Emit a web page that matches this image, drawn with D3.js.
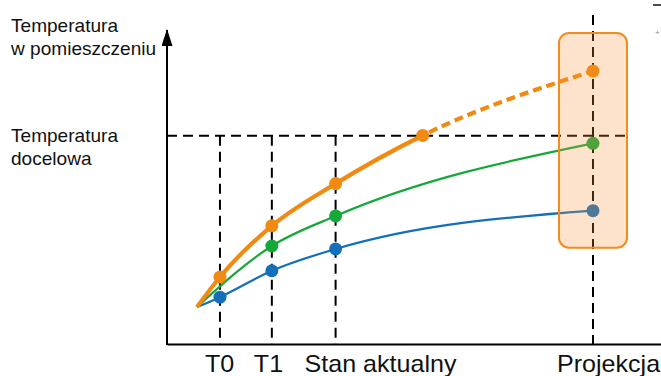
<!DOCTYPE html>
<html>
<head>
<meta charset="utf-8">
<script src="https://cdn.jsdelivr.net/npm/d3@7"></script>
<style>
  html, body { margin: 0; padding: 0; background: #fff; }
  svg { display: block; font-family: "Liberation Sans", Arial, Helvetica, sans-serif; }
</style>
</head>
<body>
<svg id="chart" width="661" height="376"></svg>
<script>
// ---- data ----
const xLabels = ["T0", "T1", "Stan aktualny", "Projekcja"];
const xLabelTimes = [0.58, 1.89, 3.50, 10];
const targetTemp = 63.1;
const yLabelTop = ["Temperatura", "w pomieszczeniu"];
const yLabelTarget = ["Temperatura", "docelowa"];

const orangeTimes = [0, 0.58, 1.89, 3.50, 5.70, 10];
const orangeValues = [11.2, 20.3, 35.8, 48.6, 63.2, 82.7];
const orangeSolidUntil = 5.70;

const greenTimes = [0, 0.58, 1.89, 3.50, 10];
const greenValues = [11.2, null, 29.7, 38.8, 60.8];

const blueTimes = [0, 0.58, 1.89, 3.50, 10];
const blueValues = [11.2, 14.2, 22.2, 28.8, 40.4];

// ---- layout ----
const W = 661, H = 376;
const axisX = 167, axisY = 344;
const svg = d3.select("#chart");
const x = d3.scaleLinear().domain([0, 10]).range([197, 593]);
const y = d3.scaleLinear().domain([0, 100]).range([344, 14]);

const ORANGE = "#f18a10", GREEN = "#17a83c", BLUE = "#136fba";

const defs = svg.append("defs");
defs.append("marker").attr("id", "arrow").attr("viewBox", "0 0 11 17")
  .attr("refX", 5.5).attr("refY", 1).attr("markerWidth", 11).attr("markerHeight", 17)
  .attr("markerUnits", "userSpaceOnUse").attr("orient", "0")
  .append("path").attr("d", "M0,17 L5.5,0 L11,17 Z").attr("fill", "#000");

const xCross = x(orangeSolidUntil);
defs.append("clipPath").attr("id", "solidClip").append("rect")
  .attr("x", 0).attr("y", 0).attr("width", xCross).attr("height", H);
defs.append("clipPath").attr("id", "dashClip").append("rect")
  .attr("x", xCross).attr("y", 0).attr("width", W - xCross).attr("height", H);

// ---- dashed guide lines ----
const dash = "10,6";
const gTarget = y(targetTemp);
svg.append("line").attr("x1", axisX).attr("x2", x(10) + 33).attr("y1", gTarget).attr("y2", gTarget)
  .attr("stroke", "#000").attr("stroke-width", 2).attr("stroke-dasharray", dash);
xLabelTimes.forEach((t, i) => {
  const top = i === xLabelTimes.length - 1 ? 15 : gTarget;
  svg.append("line").attr("x1", x(t)).attr("x2", x(t)).attr("y1", top).attr("y2", axisY)
    .attr("stroke", "#000").attr("stroke-width", 2).attr("stroke-dasharray", dash);
});

// ---- curves ----
function pts(times, vals) {
  return times.map((t, i) => ({ t, v: vals[i] })).filter(d => d.v !== null);
}
const line = d3.line().x(d => x(d.t)).y(d => y(d.v)).curve(d3.curveMonotoneX);

const blue = pts(blueTimes, blueValues);
const green = pts(greenTimes, greenValues);
const orange = pts(orangeTimes, orangeValues);

svg.append("path").attr("d", line(blue)).attr("fill", "none").attr("stroke", BLUE).attr("stroke-width", 2.2);
svg.append("path").attr("d", line(green)).attr("fill", "none").attr("stroke", GREEN).attr("stroke-width", 2.2);
svg.append("path").attr("d", line(orange)).attr("fill", "none").attr("stroke", ORANGE)
  .attr("stroke-width", 4.2).attr("clip-path", "url(#solidClip)");
svg.append("path").attr("d", line(orange)).attr("fill", "none").attr("stroke", ORANGE)
  .attr("stroke-width", 4.2).attr("stroke-dasharray", "9,5").attr("clip-path", "url(#dashClip)");

// ---- markers ----
const r = 6.5;
svg.append("g").selectAll("circle").data(blue.filter(d => d.t > 0)).join("circle")
  .attr("cx", d => x(d.t)).attr("cy", d => y(d.v)).attr("r", r).attr("fill", BLUE);
svg.append("g").selectAll("circle").data(green.filter(d => d.t > 0)).join("circle")
  .attr("cx", d => x(d.t)).attr("cy", d => y(d.v)).attr("r", r).attr("fill", GREEN);
svg.append("g").selectAll("circle").data(orange.filter(d => d.t > 0)).join("circle")
  .attr("cx", d => x(d.t)).attr("cy", d => y(d.v)).attr("r", r).attr("fill", ORANGE);

// ---- projection box ----
const pxProj = x(10);
const boxTop = y(orangeValues[orangeValues.length - 1]) - 38;
const boxBot = y(blueValues[blueValues.length - 1]) + 37;
svg.append("rect").attr("x", pxProj - 34).attr("y", boxTop).attr("width", 68).attr("height", boxBot - boxTop)
  .attr("rx", 10).attr("ry", 10)
  .attr("fill", "rgba(246,148,55,0.26)").attr("stroke", "#f28c1c").attr("stroke-width", 2);

// ---- axes ----
const xAxis = d3.axisBottom(d3.scaleLinear().domain([0, 1]).range([axisX, W + 2]))
  .tickValues([]).tickSizeOuter(0);
svg.append("g").attr("transform", `translate(0,${axisY})`).call(xAxis)
  .select(".domain").attr("stroke", "#000").attr("stroke-width", 2);
svg.append("line").attr("x1", axisX).attr("x2", axisX).attr("y1", axisY + 1).attr("y2", 30)
  .attr("stroke", "#000").attr("stroke-width", 2).attr("marker-end", "url(#arrow)");

// x labels
const labelDx = [-15, -18, -31, -36];
svg.append("g").selectAll("text").data(xLabels).join("text")
  .attr("transform", (d, i) => `translate(${x(xLabelTimes[i]) + labelDx[i]},372) scale(1.09,1)`)
  .attr("font-size", 23).attr("fill", "#111").text(d => d);

// y labels
svg.append("g").selectAll("text").data(yLabelTop).join("text")
  .attr("transform", (d, i) => `translate(11,${32 + i * 23}) scale(1.06,1)`)
  .attr("font-size", 18).attr("fill", "#111").text(d => d);
svg.append("g").selectAll("text").data(yLabelTarget).join("text")
  .attr("transform", (d, i) => `translate(11,${142 + i * 23}) scale(1.06,1)`)
  .attr("font-size", 18).attr("fill", "#111").text(d => d);

// small cropped marks at top-right edge
svg.append("line").attr("x1", 653).attr("x2", 661).attr("y1", 5).attr("y2", 5).attr("stroke", "#111").attr("stroke-width", 1.5);
svg.append("text").attr("x", 655).attr("y", 35).attr("font-size", 8).attr("fill", "#888").text("+");
</script>
</body>
</html>
